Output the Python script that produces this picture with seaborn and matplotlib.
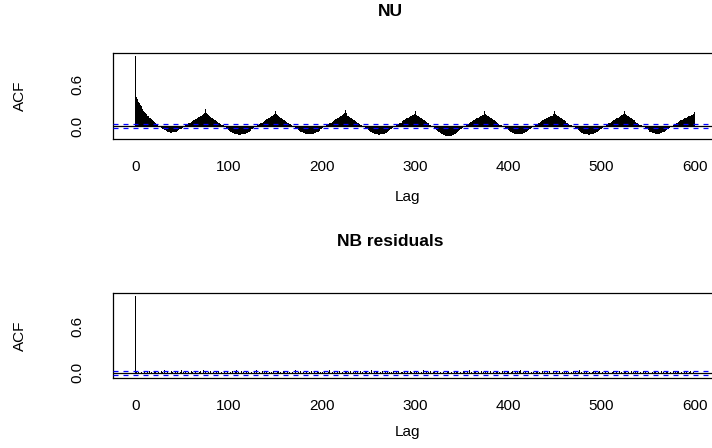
import numpy as np
import pandas as pd
import matplotlib
matplotlib.use("Agg")
import matplotlib.pyplot as plt
import seaborn as sns

# Sample autocorrelations, lags 0..600
nu_acf = [
    1.00,
    0.42, 0.38, 0.35, 0.33, 0.30, 0.28, 0.26, 0.24, 0.22, 0.20,
    0.18, 0.17, 0.15, 0.14, 0.12, 0.11, 0.10, 0.08, 0.07, 0.06,
    0.05, 0.04, 0.02, 0.01, 0.00, -0.01, -0.02, -0.03, -0.04, -0.05,
    -0.06, -0.06, -0.07, -0.08, -0.08, -0.09, -0.09, -0.10, -0.10, -0.09,
    -0.09, -0.09, -0.08, -0.08, -0.07, -0.06, -0.05, -0.05, -0.04, -0.03,
    -0.02, -0.01, 0.00, 0.01, 0.02, 0.03, 0.04, 0.05, 0.05, 0.06,
    0.07, 0.08, 0.09, 0.10, 0.10, 0.11, 0.12, 0.13, 0.13, 0.14,
    0.15, 0.16, 0.17, 0.18, 0.24,
    # 76-150
    0.18, 0.17, 0.16, 0.15, 0.14, 0.13, 0.12, 0.11, 0.10, 0.09,
    0.08, 0.07, 0.06, 0.05, 0.04, 0.03, 0.02, 0.02, 0.01, 0.00,
    -0.01, -0.02, -0.03, -0.05, -0.06, -0.07, -0.08, -0.09, -0.10, -0.10,
    -0.11, -0.12, -0.12, -0.12, -0.13, -0.13, -0.13, -0.13, -0.12, -0.12,
    -0.12, -0.11, -0.11, -0.10, -0.10, -0.09, -0.08, -0.07, -0.06, -0.05,
    -0.04, -0.03, -0.02, -0.01, 0.00, 0.01, 0.02, 0.03, 0.04, 0.05,
    0.05, 0.06, 0.07, 0.08, 0.09, 0.10, 0.10, 0.11, 0.12, 0.13,
    0.14, 0.15, 0.16, 0.17, 0.22,
    # 151-225
    0.17, 0.16, 0.15, 0.14, 0.13, 0.12, 0.11, 0.10, 0.09, 0.08,
    0.07, 0.06, 0.05, 0.04, 0.03, 0.03, 0.02, 0.01, 0.00, -0.01,
    -0.02, -0.03, -0.04, -0.05, -0.06, -0.07, -0.08, -0.09, -0.09, -0.10,
    -0.10, -0.11, -0.11, -0.11, -0.12, -0.12, -0.12, -0.12, -0.11, -0.11,
    -0.11, -0.10, -0.10, -0.09, -0.09, -0.08, -0.07, -0.06, -0.05, -0.04,
    -0.03, -0.02, -0.01, 0.00, 0.01, 0.02, 0.03, 0.04, 0.04, 0.05,
    0.06, 0.07, 0.08, 0.09, 0.10, 0.10, 0.11, 0.12, 0.13, 0.14,
    0.15, 0.16, 0.17, 0.18, 0.23,
    # 226-300
    0.18, 0.16, 0.15, 0.14, 0.13, 0.12, 0.11, 0.10, 0.09, 0.08,
    0.07, 0.06, 0.05, 0.04, 0.03, 0.02, 0.02, 0.01, 0.00, -0.01,
    -0.02, -0.03, -0.04, -0.05, -0.06, -0.07, -0.08, -0.09, -0.10, -0.10,
    -0.11, -0.11, -0.12, -0.12, -0.12, -0.13, -0.13, -0.12, -0.12, -0.12,
    -0.11, -0.11, -0.10, -0.10, -0.09, -0.08, -0.07, -0.06, -0.05, -0.04,
    -0.03, -0.02, -0.01, 0.00, 0.01, 0.02, 0.03, 0.04, 0.05, 0.05,
    0.06, 0.07, 0.08, 0.09, 0.10, 0.11, 0.11, 0.12, 0.13, 0.14,
    0.15, 0.16, 0.16, 0.17, 0.21,
    # 301-375
    0.17, 0.16, 0.15, 0.14, 0.13, 0.12, 0.11, 0.10, 0.09, 0.08,
    0.07, 0.06, 0.05, 0.04, 0.03, 0.02, 0.01, 0.00, -0.01, -0.02,
    -0.03, -0.04, -0.06, -0.07, -0.08, -0.09, -0.10, -0.11, -0.12, -0.12,
    -0.13, -0.13, -0.14, -0.14, -0.14, -0.15, -0.15, -0.14, -0.14, -0.13,
    -0.13, -0.12, -0.11, -0.10, -0.09, -0.08, -0.07, -0.06, -0.05, -0.04,
    -0.03, -0.02, -0.01, 0.00, 0.01, 0.02, 0.03, 0.04, 0.05, 0.06,
    0.06, 0.07, 0.08, 0.09, 0.10, 0.11, 0.11, 0.12, 0.13, 0.14,
    0.15, 0.16, 0.16, 0.17, 0.22,
    # 376-450
    0.17, 0.16, 0.15, 0.14, 0.13, 0.12, 0.11, 0.10, 0.09, 0.08,
    0.07, 0.06, 0.05, 0.04, 0.03, 0.02, 0.02, 0.01, 0.00, -0.01,
    -0.02, -0.03, -0.04, -0.05, -0.06, -0.07, -0.08, -0.09, -0.09, -0.10,
    -0.10, -0.11, -0.11, -0.11, -0.12, -0.12, -0.12, -0.11, -0.11, -0.11,
    -0.10, -0.10, -0.09, -0.09, -0.08, -0.07, -0.06, -0.05, -0.04, -0.03,
    -0.02, -0.01, 0.00, 0.01, 0.02, 0.03, 0.04, 0.05, 0.05, 0.06,
    0.07, 0.08, 0.09, 0.10, 0.10, 0.11, 0.12, 0.13, 0.13, 0.14,
    0.15, 0.15, 0.16, 0.17, 0.21,
    # 451-525
    0.17, 0.16, 0.15, 0.14, 0.13, 0.12, 0.11, 0.10, 0.09, 0.08,
    0.07, 0.06, 0.05, 0.04, 0.03, 0.02, 0.01, 0.01, 0.00, -0.01,
    -0.02, -0.03, -0.04, -0.05, -0.06, -0.07, -0.08, -0.09, -0.10, -0.10,
    -0.11, -0.11, -0.12, -0.12, -0.12, -0.13, -0.13, -0.12, -0.12, -0.12,
    -0.11, -0.11, -0.10, -0.10, -0.09, -0.08, -0.07, -0.06, -0.05, -0.04,
    -0.03, -0.02, -0.01, 0.00, 0.01, 0.02, 0.03, 0.04, 0.05, 0.05,
    0.06, 0.07, 0.08, 0.09, 0.10, 0.11, 0.11, 0.12, 0.13, 0.14,
    0.15, 0.16, 0.16, 0.17, 0.21,
    # 526-600
    0.17, 0.16, 0.15, 0.14, 0.13, 0.12, 0.11, 0.10, 0.09, 0.08,
    0.07, 0.06, 0.05, 0.04, 0.03, 0.02, 0.02, 0.01, 0.00, -0.01,
    -0.02, -0.03, -0.04, -0.05, -0.06, -0.07, -0.08, -0.08, -0.09, -0.10,
    -0.10, -0.10, -0.11, -0.11, -0.11, -0.11, -0.11, -0.10, -0.10, -0.10,
    -0.09, -0.09, -0.08, -0.07, -0.06, -0.05, -0.04, -0.03, -0.02, -0.01,
    0.00, 0.01, 0.02, 0.03, 0.04, 0.05, 0.05, 0.06, 0.07, 0.08,
    0.09, 0.09, 0.10, 0.11, 0.12, 0.12, 0.13, 0.14, 0.14, 0.15,
    0.15, 0.16, 0.16, 0.17, 0.20,
]

nb_resid_acf = [
    1.00,
    0.02, -0.01, 0.01, 0.00, -0.02, 0.01, 0.03, -0.01, 0.00, 0.02, -0.01, -0.02, 0.01, 0.00, 0.02, -0.01, 0.01, -0.02, 0.00, 0.01,
    -0.01, 0.02, 0.00, -0.01, 0.01, -0.02, 0.00, 0.02, 0.01, -0.01, 0.03, 0.00, -0.01, 0.01, -0.02, 0.01, 0.00, -0.01, 0.02, 0.01,
    -0.02, 0.00, 0.01, -0.01, 0.02, 0.00, -0.01, 0.01, 0.03, -0.02, 0.00, 0.01, -0.01, 0.02, 0.00, -0.02, 0.01, 0.00, -0.01, 0.02,
    0.01, -0.01, 0.00, 0.02, -0.02, 0.01, 0.00, -0.01, 0.01, 0.02, -0.01, 0.00, 0.03, -0.01, 0.01, -0.02, 0.00, 0.01, -0.01, 0.00,
    0.02, 0.00, -0.01, 0.01, -0.02, 0.00, 0.01, -0.01, 0.02, 0.00, -0.02, 0.01, 0.00, -0.01, 0.02, 0.01, -0.01, 0.00, 0.01, -0.02,
    0.00, 0.01, -0.01, 0.02, 0.00, -0.02, 0.01, 0.03, -0.01, 0.00, 0.01, -0.02, 0.00, 0.02, -0.01, 0.01, 0.00, -0.01, 0.02, -0.02,
    0.01, 0.00, -0.01, 0.02, 0.01, -0.02, 0.00, 0.01, -0.01, 0.03, 0.00, -0.01, 0.01, -0.02, 0.00, 0.02, -0.01, 0.01, 0.00, -0.01,
    0.02, -0.01, 0.00, 0.01, -0.02, 0.01, 0.00, 0.02, -0.01, 0.00, -0.02, 0.01, 0.02, 0.00, -0.01, 0.01, -0.01, 0.00, 0.02, 0.01,
    -0.01, 0.00, 0.02, -0.02, 0.01, 0.00, -0.01, 0.02, 0.01, -0.01, 0.00, 0.03, -0.02, 0.00, 0.01, -0.01, 0.02, 0.00, -0.01, 0.01,
    0.00, -0.02, 0.01, 0.02, -0.01, 0.00, 0.01, -0.01, 0.02, 0.00, -0.02, 0.01, 0.00, -0.01, 0.02, 0.01, -0.01, 0.00, 0.01, -0.02,
    0.01, 0.00, 0.02, -0.01, 0.00, -0.02, 0.01, 0.03, 0.00, -0.01, 0.01, -0.01, 0.00, 0.02, -0.02, 0.00, 0.01, -0.01, 0.02, 0.00,
    -0.01, 0.01, 0.00, -0.02, 0.02, 0.01, -0.01, 0.00, 0.01, -0.01, 0.02, 0.00, -0.02, 0.01, 0.00, 0.02, -0.01, 0.01, -0.01, 0.00,
    0.02, 0.00, -0.01, 0.01, 0.00, -0.02, 0.01, 0.02, -0.01, 0.00, 0.01, -0.01, 0.03, 0.00, -0.02, 0.01, 0.00, -0.01, 0.02, 0.01,
    -0.01, 0.00, 0.01, -0.02, 0.02, 0.00, -0.01, 0.01, 0.00, 0.02, -0.01, 0.00, 0.01, -0.02, 0.01, 0.00, 0.02, -0.01, 0.00, 0.01,
    -0.01, 0.02, 0.00, -0.02, 0.01, 0.00, 0.01, -0.01, 0.02, 0.00, -0.01, 0.01, -0.02, 0.00, 0.02, 0.01, -0.01, 0.00, 0.01, -0.01,
    0.00, 0.02, -0.01, 0.01, 0.00, -0.02, 0.01, 0.00, 0.03, -0.01, 0.00, 0.01, -0.02, 0.01, 0.00, -0.01, 0.02, 0.00, -0.01, 0.01,
    0.01, -0.01, 0.00, 0.02, -0.02, 0.00, 0.01, -0.01, 0.00, 0.02, 0.01, -0.01, 0.00, -0.02, 0.01, 0.02, 0.00, -0.01, 0.01, 0.00,
    -0.02, 0.01, 0.00, 0.01, -0.01, 0.02, 0.00, -0.01, 0.01, -0.02, 0.00, 0.02, 0.01, -0.01, 0.00, 0.01, -0.01, 0.03, 0.00, -0.01,
    0.01, 0.00, -0.02, 0.01, 0.02, -0.01, 0.00, 0.01, -0.01, 0.00, 0.02, -0.02, 0.01, 0.00, -0.01, 0.02, 0.00, 0.01, -0.01, 0.00,
    0.02, -0.01, 0.00, 0.01, -0.02, 0.00, 0.01, 0.02, -0.01, 0.00, 0.01, -0.01, 0.00, 0.02, -0.02, 0.01, 0.00, -0.01, 0.01, 0.02,
    -0.01, 0.00, 0.01, -0.01, 0.02, 0.00, -0.02, 0.01, 0.00, 0.01, -0.01, 0.02, 0.03, -0.01, 0.00, 0.01, -0.02, 0.00, 0.01, -0.01,
    0.00, 0.02, -0.01, 0.00, 0.01, -0.02, 0.01, 0.00, -0.01, 0.02, 0.01, -0.01, 0.00, 0.01, -0.02, 0.00, 0.02, -0.01, 0.01, 0.00,
    -0.01, 0.01, 0.00, 0.02, -0.01, 0.00, -0.02, 0.01, 0.02, 0.00, -0.01, 0.01, 0.00, -0.01, 0.02, -0.02, 0.00, 0.01, 0.00, 0.01,
    -0.01, 0.00, 0.02, -0.01, 0.01, 0.00, -0.02, 0.01, 0.00, 0.02, -0.01, 0.01, 0.00, -0.01, 0.01, 0.03, -0.02, 0.00, 0.01, -0.01,
    0.00, 0.01, -0.01, 0.02, 0.00, -0.02, 0.01, 0.00, -0.01, 0.01, 0.02, 0.00, -0.01, 0.01, -0.02, 0.00, 0.01, 0.02, -0.01, 0.00,
    0.01, -0.02, 0.00, 0.01, -0.01, 0.02, 0.00, 0.01, -0.01, 0.00, -0.02, 0.01, 0.02, -0.01, 0.00, 0.01, -0.01, 0.00, 0.02, 0.00,
    -0.01, 0.01, 0.00, -0.02, 0.02, 0.01, -0.01, 0.00, 0.01, -0.01, 0.00, 0.02, -0.01, 0.01, 0.00, -0.02, 0.01, 0.00, 0.02, -0.01,
    0.00, 0.01, -0.01, 0.00, 0.02, -0.02, 0.01, 0.00, -0.01, 0.01, 0.02, 0.00, -0.01, 0.00, 0.01, -0.02, 0.01, 0.02, 0.00, -0.01,
    0.01, 0.00, -0.01, 0.02, 0.00, -0.01, 0.01, -0.02, 0.00, 0.01, 0.02, -0.01, 0.00, 0.01, -0.01, 0.00, 0.02, -0.02, 0.01, 0.00,
    -0.01, 0.01, 0.02, 0.00, -0.01, 0.01, -0.02, 0.00, 0.01, -0.01, 0.02, 0.00, -0.01, 0.01, 0.00, 0.02, -0.01, 0.00, 0.01, -0.01,
]

# Approximate 95% white-noise bounds
ci_bound = 0.028

panel_titles = ["NU", "NB residuals"]
x_ticks = [0, 100, 200, 300, 400, 500, 600]
y_ticks = [0.0, 0.2, 0.4, 0.6, 0.8, 1.0]
y_tick_labels = ["0.0", "", "", "0.6", "", ""]

sns.set_theme(style="white")
plt.rcParams["font.family"] = ["Liberation Sans", "DejaVu Sans"]
plt.rcParams.update({
    "text.color": "black",
    "axes.labelcolor": "black",
    "xtick.color": "black",
    "ytick.color": "black",
})

W, H = 712, 448
fig = plt.figure(figsize=(W / 100, H / 100), dpi=100)
fig.patch.set_facecolor("white")


def add_panel(left, top, right, bottom):
    return fig.add_axes([left / W, 1 - bottom / H, (right - left) / W, (bottom - top) / H])


# (axes, values, y-limits, top px, bottom px, title y px, x-label y px)
panels = [
    (add_panel(113, 53.3, 717, 139), nu_acf, (-0.186, 1.04), 53.3, 139, 12, 197),
    (add_panel(113, 293, 717, 378), nb_resid_acf, (-0.069, 1.039), 293, 378, 241, 432),
]

for i, (ax, acf, ylim, top_px, bottom_px, title_y, xlabel_y) in enumerate(panels):
    df = pd.DataFrame({"lag": np.arange(len(acf)), "acf": acf})
    sns.barplot(data=df, x="lag", y="acf", native_scale=True, color="black",
                saturation=1, width=1.0, linewidth=0, errorbar=None, ax=ax)
    ax.axhline(0, color="black", lw=0.9, zorder=3)
    for b in (ci_bound, -ci_bound):
        ax.axhline(b, color="#0000ff", lw=0.9, ls=(0, (4, 4)), zorder=4)

    ax.set_xlim(-24.1, 624)
    ax.set_ylim(*ylim)
    ax.set_xticks(x_ticks)
    ax.set_xticklabels([str(t) for t in x_ticks], fontsize=11)
    ax.set_yticks(y_ticks)
    ax.set_yticklabels(y_tick_labels, fontsize=11, rotation=90, va="center")
    ax.tick_params(axis="x", direction="out", length=6, width=0.9, pad=9)
    ax.tick_params(axis="y", direction="out", length=9.4, width=0.9, pad=11)
    for s in ax.spines.values():
        s.set_visible(True)
        s.set_color("black")
        s.set_linewidth(0.9)

    ph = bottom_px - top_px
    ax.set_xlabel("Lag", fontsize=11)
    ax.xaxis.set_label_coords((407 - 113) / 604, (bottom_px - xlabel_y) / ph)
    ax.xaxis.label.set_va("center")
    ax.set_ylabel("ACF", fontsize=11)
    ax.yaxis.set_label_coords((20 - 113) / 604, 0.5)
    ax.yaxis.label.set_va("center")
    ax.set_title(panel_titles[i], fontsize=12.5, fontweight="bold", pad=0,
                 x=(390 - 113) / 604, y=(bottom_px - title_y) / ph, va="center")

fig.savefig("out.png", dpi=100, facecolor="white")
